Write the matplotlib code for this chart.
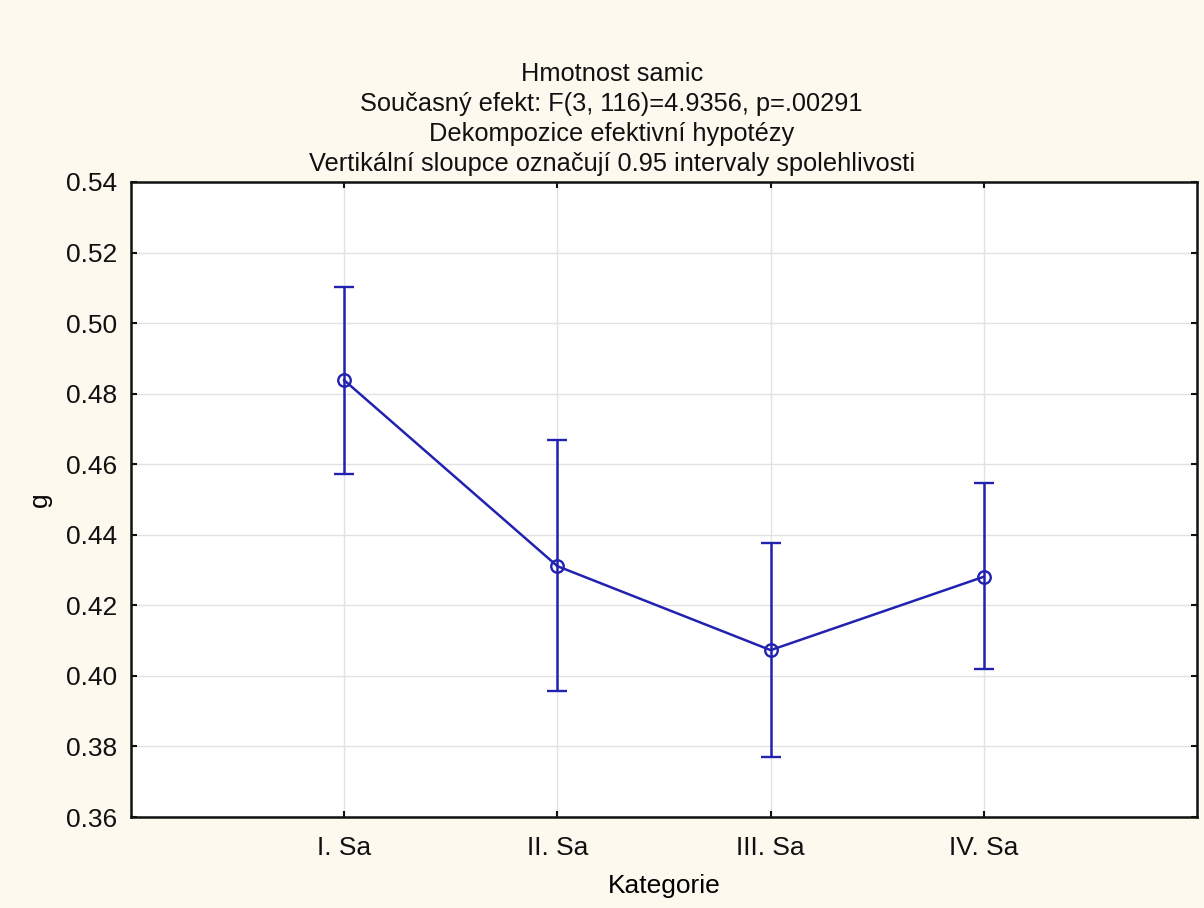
import matplotlib
matplotlib.use("Agg")
import matplotlib.pyplot as plt

plt.rcParams['font.family'] = ['Liberation Sans', 'DejaVu Sans']

# data
categories = ["I. Sa", "II. Sa", "III. Sa", "IV. Sa"]
means = [0.4838, 0.4311, 0.4073, 0.4281]
upper = [0.5102, 0.4668, 0.4377, 0.4547]
lower = [0.4572, 0.3957, 0.3769, 0.4020]
yticks = [0.36, 0.38, 0.40, 0.42, 0.44, 0.46, 0.48, 0.50, 0.52, 0.54]

title_lines = [
    "Hmotnost samic",
    "Současný efekt: F(3, 116)=4.9356, p=.00291",
    "Dekompozice efektivní hypotézy",
    "Vertikální sloupce označují 0.95 intervaly spolehlivosti",
]

bg = '#FDF9EF'
blue = '#2222B0'

fig = plt.figure(figsize=(12.04, 9.08), dpi=100, facecolor=bg)
ax = fig.add_axes([0.1088, 0.1002, 0.8854, 0.6994])
ax.set_facecolor('white')

x = list(range(len(categories)))
err_lo = [m - l for m, l in zip(means, lower)]
err_hi = [u - m for m, u in zip(means, upper)]
ax.errorbar(x, means, yerr=[err_lo, err_hi], color=blue, lw=1.8,
            elinewidth=1.8, capsize=7.5, capthick=1.8,
            marker='o', markersize=9, markerfacecolor='none',
            markeredgecolor=blue, markeredgewidth=1.7, zorder=3)

ax.set_xlim(-1, 4)
ax.set_ylim(0.36, 0.54)
ax.set_xticks(x)
ax.set_xticklabels(categories)
ax.set_yticks(yticks)
ax.set_yticklabels([f"{v:.2f}" for v in yticks])
ax.grid(True, color='#e2e2e2', lw=1.0, zorder=0)
ax.tick_params(direction='in', length=4, width=1.5, labelsize=19,
               top=True, right=True, colors='#111111')
ax.tick_params(axis='y', pad=10)
ax.tick_params(axis='x', pad=14)
for s in ax.spines.values():
    s.set_linewidth(1.8)
    s.set_color('#111111')

ax.set_xlabel("Kategorie", fontsize=19, labelpad=10)
ax.set_ylabel("g", fontsize=19, labelpad=10)

for i, line in enumerate(title_lines):
    fig.text(0.508, 1 - (74 + 30 * i) / 908, line, ha='center', va='center',
             fontsize=18.3, color='#111111')

fig.savefig("out.png", dpi=100, facecolor=bg)
